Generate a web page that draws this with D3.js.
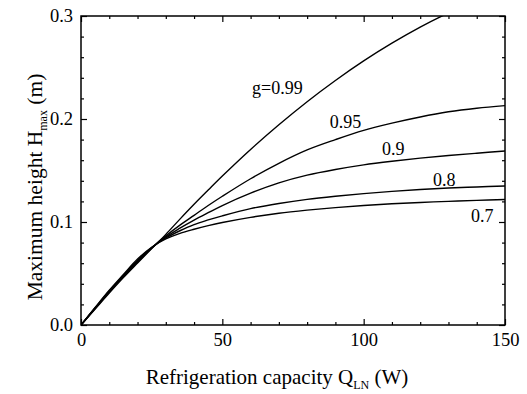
<!DOCTYPE html>
<html>
<head>
<meta charset="utf-8">
<script src="https://cdn.jsdelivr.net/npm/d3@7"></script>
</head>
<body style="margin:0">
<svg width="527" height="394"></svg>
<script>
var serif = "'Liberation Serif'";

// refrigeration capacity Q_LN (W)
var capacity = [0, 5, 10, 15, 20, 25, 30, 35, 40, 45, 50, 60, 70, 80, 90, 100, 110, 120, 130, 140, 150];

// maximum height H_max (m) for each g
var h099 = [0, 0.0155, 0.031, 0.046, 0.0602, 0.0742, 0.088, 0.1028, 0.1172, 0.131, 0.1446, 0.1704, 0.1944, 0.2168, 0.2374, 0.2564, 0.2736, 0.2892, 0.303, 0.315, 0.3256];
var h095 = [0, 0.016, 0.032, 0.047, 0.0610, 0.0746, 0.0865, 0.097, 0.1065, 0.116, 0.125, 0.142, 0.157, 0.170, 0.180, 0.189, 0.196, 0.202, 0.207, 0.2105, 0.213];
var h090 = [0, 0.0163, 0.0325, 0.0475, 0.0618, 0.0748, 0.0855, 0.094, 0.1018, 0.109, 0.116, 0.128, 0.138, 0.1455, 0.151, 0.1555, 0.159, 0.162, 0.1645, 0.1668, 0.169];
var h080 = [0, 0.0167, 0.033, 0.048, 0.0628, 0.0752, 0.0845, 0.0915, 0.0975, 0.102, 0.106, 0.113, 0.118, 0.122, 0.125, 0.1275, 0.1297, 0.1315, 0.133, 0.134, 0.135];
var h070 = [0, 0.017, 0.0337, 0.049, 0.064, 0.0755, 0.0835, 0.089, 0.093, 0.0965, 0.0995, 0.1045, 0.1085, 0.1115, 0.114, 0.116, 0.1177, 0.119, 0.120, 0.121, 0.1218];

var seriesNames = ["g=0.99", "0.95", "0.9", "0.8", "0.7"];
var seriesValues = [h099, h095, h090, h080, h070];
// where each curve label sits (data coords)
var labelQ = [60.5, 88, 106.5, 124.5, 138];
var labelH = [0.2245, 0.191, 0.165, 0.135, 0.100];

var xTicks = [0, 50, 100, 150];
var xMinor = [10, 20, 30, 40, 60, 70, 80, 90, 110, 120, 130, 140];
var yTicks = [0.0, 0.1, 0.2, 0.3];
var yMinor = [0.02, 0.04, 0.06, 0.08, 0.12, 0.14, 0.16, 0.18, 0.22, 0.24, 0.26, 0.28];

var svg = d3.select("svg");

var margin = { top: 16, right: 22, bottom: 69, left: 81 };
var plotWidth = 527 - margin.left - margin.right;
var plotHeight = 394 - margin.top - margin.bottom;

var xScale = d3.scaleLinear().domain([0, 150]).range([0, plotWidth]);
var yScale = d3.scaleLinear().domain([0, 0.3]).range([plotHeight, 0]);

var plot = svg.append("g")
  .attr("transform", "translate(" + margin.left + "," + margin.top + ")");

plot.append("clipPath").attr("id", "clip")
  .append("rect")
  .attr("width", plotWidth)
  .attr("height", plotHeight);

// axes, ticks pointing inward on all four sides
var xAxis = d3.axisBottom(xScale).tickValues(xTicks).tickSize(-6).tickPadding(8).tickFormat(d3.format("d"));
var yAxis = d3.axisLeft(yScale).tickValues(yTicks).tickSize(-6).tickPadding(8).tickFormat(d3.format(".1f"));

plot.append("g").attr("transform", "translate(0," + plotHeight + ")").call(xAxis);
plot.append("g").call(yAxis);

plot.append("g").attr("transform", "translate(0," + plotHeight + ")")
  .call(d3.axisBottom(xScale).tickValues(xMinor).tickSize(-3).tickFormat(""));
plot.append("g")
  .call(d3.axisLeft(yScale).tickValues(yMinor).tickSize(-3).tickFormat(""));
plot.append("g")
  .call(d3.axisTop(xScale).tickValues(xTicks).tickSize(-6).tickFormat(""));
plot.append("g")
  .call(d3.axisTop(xScale).tickValues(xMinor).tickSize(-3).tickFormat(""));
plot.append("g").attr("transform", "translate(" + plotWidth + ",0)")
  .call(d3.axisRight(yScale).tickValues(yTicks).tickSize(-6).tickFormat(""));
plot.append("g").attr("transform", "translate(" + plotWidth + ",0)")
  .call(d3.axisRight(yScale).tickValues(yMinor).tickSize(-3).tickFormat(""));

plot.selectAll(".domain").remove();
plot.selectAll("g").attr("font-family", serif).attr("font-size", 18.5);
plot.selectAll(".tick line").attr("stroke", "#000").attr("stroke-width", 1.2);
plot.selectAll(".tick text").attr("fill", "#000");

plot.append("rect")
  .attr("width", plotWidth)
  .attr("height", plotHeight)
  .attr("fill", "none")
  .attr("stroke", "#000")
  .attr("stroke-width", 1.5);

// curves
var line = d3.line()
  .x(function(d) { return xScale(d[0]); })
  .y(function(d) { return yScale(d[1]); })
  .curve(d3.curveCatmullRom.alpha(0.5));

var curves = plot.append("g").attr("clip-path", "url(#clip)");
seriesValues.forEach(function(vals) {
  var pts = capacity.map(function(q, i) { return [q, vals[i]]; });
  curves.append("path")
    .datum(pts)
    .attr("d", line)
    .attr("fill", "none")
    .attr("stroke", "#000")
    .attr("stroke-width", 1.4);
});

// curve labels
plot.selectAll(".curve-label")
  .data(seriesNames)
  .enter().append("text")
  .attr("class", "curve-label")
  .attr("x", function(d, i) { return xScale(labelQ[i]); })
  .attr("y", function(d, i) { return yScale(labelH[i]); })
  .attr("font-family", serif)
  .attr("font-size", 18)
  .text(function(d) { return d; });

// axis titles
var xTitle = svg.append("text")
  .attr("x", 277)
  .attr("y", 384)
  .attr("font-family", serif)
  .attr("font-size", 21)
  .attr("text-anchor", "middle");
xTitle.append("tspan").text("Refrigeration capacity Q");
xTitle.append("tspan").attr("dy", 5).attr("font-size", 12).text("LN");
xTitle.append("tspan").attr("dy", -5).text(" (W)");

var yTitle = svg.append("text")
  .attr("transform", "translate(42,187) rotate(-90)")
  .attr("font-family", serif)
  .attr("font-size", 21.5)
  .attr("text-anchor", "middle");
yTitle.append("tspan").text("Maximum height H");
yTitle.append("tspan").attr("dy", 5).attr("font-size", 12).text("max");
yTitle.append("tspan").attr("dy", -5).text(" (m)");
</script>
</body>
</html>
